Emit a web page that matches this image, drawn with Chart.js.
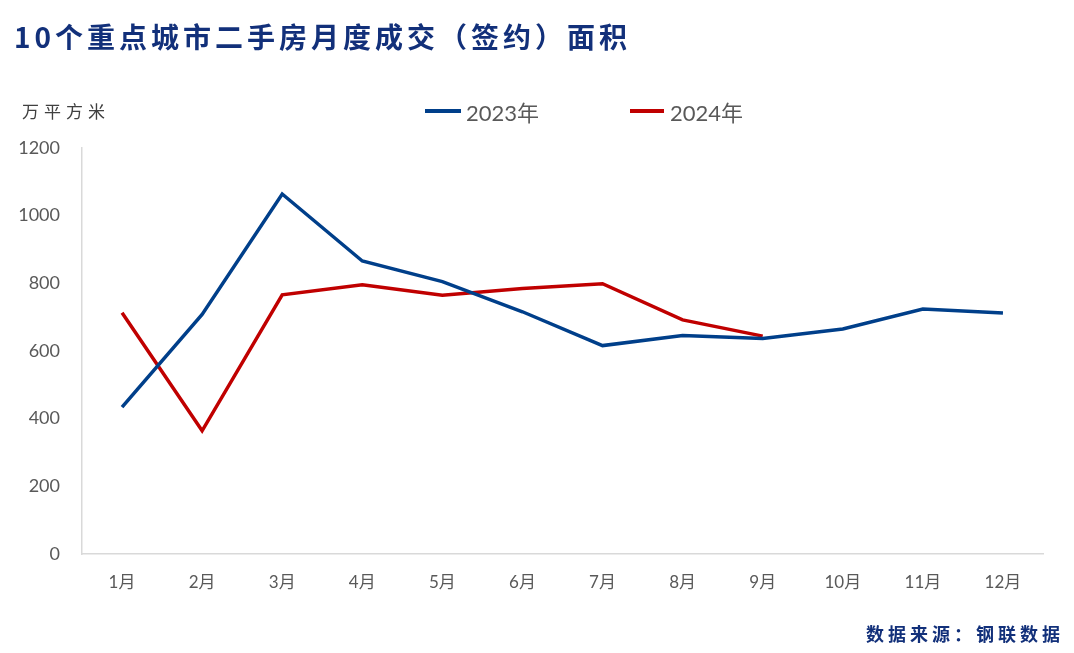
<!DOCTYPE html>
<html>
<head>
<meta charset="utf-8">
<script src="https://cdn.jsdelivr.net/npm/chart.js@4"></script>
<style>
  body { margin: 0; background: #fff; }
  #wrap { position: relative; width: 1074px; height: 653px; }
  #plot { position: absolute; left: 0; top: 0; }
  .txt { position: absolute; white-space: nowrap; font-family: "Noto Sans CJK SC", sans-serif; }
  #title { left: 14px; top: 16px; font-size: 28px; font-weight: bold; color: #12307a; letter-spacing: 4px; }
  #unit { left: 22px; top: 98px; font-size: 17px; color: #404040; letter-spacing: 5px; }
  #source { left: 866px; top: 620px; font-size: 18px; font-weight: bold; color: #12307a; letter-spacing: 4px; }
  .leg { top: 95px; font-size: 22px; color: #595959; font-family: Lato, "Noto Sans CJK SC", sans-serif; }
  .legline { position: absolute; height: 4px; top: 109px; }
</style>
</head>
<body>
<div id="wrap">
  <canvas id="plot" width="1074" height="653"></canvas>
  <div class="txt" id="title">10个重点城市二手房月度成交（签约）面积</div>
  <div class="txt" id="unit">万平方米</div>
  <div class="legline" style="left:425px;width:36px;background:#003f8a"></div>
  <div class="txt leg" style="left:466px">2023年</div>
  <div class="legline" style="left:630px;width:34px;background:#c00000"></div>
  <div class="txt leg" style="left:670px">2024年</div>
  <div class="txt" id="source">数据来源：钢联数据</div>
</div>
<script>
const months = ["1月","2月","3月","4月","5月","6月","7月","8月","9月","10月","11月","12月"];
const area2023 = [434, 708, 1064, 866, 805, 716, 616, 646, 637, 665, 724, 712];
const area2024 = [713, 364, 766, 796, 765, 785, 799, 692, 644];

const tickFont = { family: "Lato, 'Noto Sans CJK SC', sans-serif", size: 18 };

let ctx = document.getElementById("plot").getContext("2d");
let chart = new Chart(ctx, {
  type: 'line',
  data: {
    labels: months,
    datasets: [{
      label: '2023年',
      data: area2023,
      borderColor: '#003f8a',
      borderWidth: 3.5,
      pointRadius: 0,
      fill: false,
      tension: 0
    }, {
      label: '2024年',
      data: area2024,
      borderColor: '#c00000',
      borderWidth: 3.5,
      pointRadius: 0,
      fill: false,
      tension: 0
    }]
  },
  options: {
    responsive: false,
    animation: false,
    layout: { padding: { left: 0, right: 31, top: 148, bottom: 0 } },
    plugins: { legend: { display: false }, tooltip: { enabled: false } },
    scales: {
      x: {
        offset: true,
        grid: { display: false },
        border: { display: true, color: '#d9d9d9', width: 1.5 },
        ticks: { color: '#595959', font: { family: tickFont.family, size: 17 }, padding: 10 },
        afterFit: s => { s.height = 99; }
      },
      y: {
        min: 0,
        max: 1200,
        grid: { display: false },
        border: { display: true, color: '#d9d9d9', width: 1.5 },
        ticks: { stepSize: 200, color: '#595959', font: tickFont, padding: 14,
                 callback: v => String(v) },
        afterFit: s => { s.width = 82; }
      }
    }
  }
});
</script>
</body>
</html>
